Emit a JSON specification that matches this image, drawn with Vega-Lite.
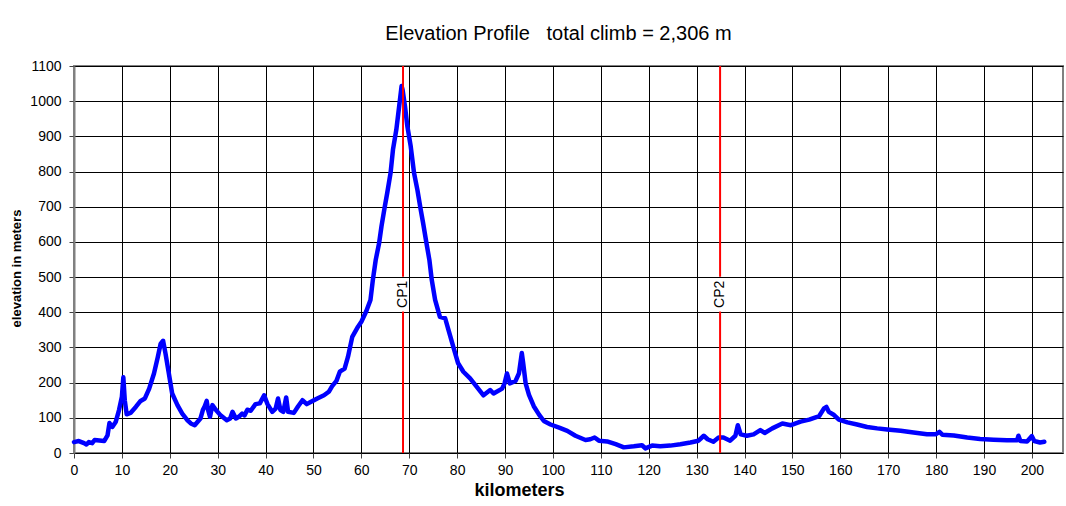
{
  "$schema": "https://vega.github.io/schema/vega-lite/v6.json",
  "width": 989,
  "height": 387,
  "autosize": {"type": "none"},
  "padding": {"left": 74, "top": 66, "right": 3, "bottom": 53},
  "background": "white",
  "config": {
    "font": "Liberation Sans",
    "view": {"stroke": "#808080", "strokeWidth": 2},
    "axis": {
      "labelFont": "Liberation Sans",
      "labelFontSize": 14,
      "labelColor": "black",
      "titleFont": "Liberation Sans",
      "titleColor": "black",
      "gridColor": "black",
      "gridWidth": 1,
      "gridOpacity": 1,
      "tickColor": "#404040",
      "tickSize": 5,
      "domainColor": "#808080",
      "domainWidth": 2
    }
  },
  "title": {
    "text": "Elevation Profile\u00a0\u00a0\u00a0total climb = 2,306 m",
    "font": "Liberation Sans",
    "fontSize": 20,
    "fontWeight": "normal",
    "color": "black",
    "anchor": "middle",
    "dx": -10,
    "offset": 15
  },
  "datasets": {
    "profile": [
      {"km": 0, "elev": 31}, {"km": 1.0, "elev": 34}, {"km": 2.1, "elev": 28}, {"km": 2.6, "elev": 24},
      {"km": 3.1, "elev": 31}, {"km": 3.8, "elev": 28}, {"km": 4.3, "elev": 37}, {"km": 6.3, "elev": 34},
      {"km": 7.0, "elev": 50}, {"km": 7.4, "elev": 85}, {"km": 8.0, "elev": 74}, {"km": 8.7, "elev": 88},
      {"km": 9.4, "elev": 122}, {"km": 10.0, "elev": 160}, {"km": 10.3, "elev": 215}, {"km": 10.6, "elev": 150},
      {"km": 11.0, "elev": 110}, {"km": 11.8, "elev": 114}, {"km": 12.9, "elev": 131}, {"km": 13.9, "elev": 148},
      {"km": 14.8, "elev": 155}, {"km": 15.7, "elev": 183}, {"km": 16.7, "elev": 226}, {"km": 17.5, "elev": 273},
      {"km": 18.1, "elev": 311}, {"km": 18.6, "elev": 319}, {"km": 19.1, "elev": 283}, {"km": 19.8, "elev": 226},
      {"km": 20.5, "elev": 169}, {"km": 21.6, "elev": 136}, {"km": 22.6, "elev": 112}, {"km": 23.7, "elev": 93},
      {"km": 24.4, "elev": 84}, {"km": 25.2, "elev": 79}, {"km": 26.4, "elev": 98}, {"km": 26.9, "elev": 122},
      {"km": 27.3, "elev": 133}, {"km": 27.7, "elev": 148}, {"km": 28.0, "elev": 122}, {"km": 28.4, "elev": 103},
      {"km": 28.9, "elev": 136}, {"km": 29.6, "elev": 123}, {"km": 30.6, "elev": 107}, {"km": 31.9, "elev": 93},
      {"km": 32.6, "elev": 98}, {"km": 33.1, "elev": 117}, {"km": 33.8, "elev": 98}, {"km": 34.4, "elev": 103},
      {"km": 35.1, "elev": 112}, {"km": 35.6, "elev": 107}, {"km": 36.2, "elev": 123}, {"km": 36.9, "elev": 120},
      {"km": 37.9, "elev": 139}, {"km": 38.8, "elev": 141}, {"km": 39.7, "elev": 164}, {"km": 40.4, "elev": 139},
      {"km": 41.4, "elev": 117}, {"km": 42.1, "elev": 126}, {"km": 42.6, "elev": 155}, {"km": 43.1, "elev": 122},
      {"km": 43.7, "elev": 117}, {"km": 44.3, "elev": 158}, {"km": 44.7, "elev": 117}, {"km": 45.9, "elev": 114},
      {"km": 46.8, "elev": 133}, {"km": 47.7, "elev": 150}, {"km": 48.6, "elev": 139}, {"km": 49.4, "elev": 145},
      {"km": 50.8, "elev": 155}, {"km": 52.2, "elev": 164}, {"km": 53.2, "elev": 174}, {"km": 53.9, "elev": 190},
      {"km": 54.8, "elev": 205}, {"km": 55.5, "elev": 231}, {"km": 56.5, "elev": 240}, {"km": 57.2, "elev": 273},
      {"km": 58.1, "elev": 330}, {"km": 59.3, "elev": 359}, {"km": 60.0, "elev": 373}, {"km": 61.0, "elev": 402},
      {"km": 61.9, "elev": 435}, {"km": 62.4, "elev": 492}, {"km": 63.0, "elev": 549}, {"km": 63.7, "elev": 596},
      {"km": 64.2, "elev": 644}, {"km": 64.9, "elev": 701}, {"km": 65.4, "elev": 739}, {"km": 66.1, "elev": 796},
      {"km": 66.6, "elev": 862}, {"km": 67.3, "elev": 919}, {"km": 67.9, "elev": 986}, {"km": 68.4, "elev": 1043},
      {"km": 68.6, "elev": 1033}, {"km": 69.1, "elev": 986}, {"km": 69.6, "elev": 929}, {"km": 70.3, "elev": 872},
      {"km": 71.0, "elev": 796}, {"km": 71.7, "elev": 748}, {"km": 72.4, "elev": 691}, {"km": 72.9, "elev": 653},
      {"km": 73.6, "elev": 596}, {"km": 74.2, "elev": 549}, {"km": 74.7, "elev": 492}, {"km": 75.4, "elev": 435},
      {"km": 76.4, "elev": 387}, {"km": 77.5, "elev": 383}, {"km": 78.2, "elev": 349}, {"km": 79.2, "elev": 302},
      {"km": 80.2, "elev": 255}, {"km": 81.3, "elev": 231}, {"km": 82.7, "elev": 212}, {"km": 84.1, "elev": 188},
      {"km": 85.5, "elev": 164}, {"km": 86.9, "elev": 179}, {"km": 87.6, "elev": 169}, {"km": 89.4, "elev": 183},
      {"km": 89.9, "elev": 198}, {"km": 90.4, "elev": 226}, {"km": 91.0, "elev": 198}, {"km": 92.2, "elev": 205},
      {"km": 92.9, "elev": 226}, {"km": 93.5, "elev": 284}, {"km": 93.8, "elev": 254}, {"km": 94.3, "elev": 198},
      {"km": 95.0, "elev": 165}, {"km": 96.0, "elev": 133}, {"km": 97.1, "elev": 109}, {"km": 98.1, "elev": 91},
      {"km": 99.5, "elev": 81}, {"km": 101.3, "elev": 72}, {"km": 103.0, "elev": 63}, {"km": 104.7, "elev": 49},
      {"km": 106.8, "elev": 37}, {"km": 107.8, "elev": 39}, {"km": 108.7, "elev": 44}, {"km": 109.6, "elev": 35},
      {"km": 111.3, "elev": 33}, {"km": 113.1, "elev": 25}, {"km": 114.8, "elev": 16}, {"km": 116.9, "elev": 19},
      {"km": 118.6, "elev": 22}, {"km": 119.3, "elev": 13}, {"km": 120.7, "elev": 21}, {"km": 122.4, "elev": 19},
      {"km": 124.5, "elev": 21}, {"km": 126.6, "elev": 25}, {"km": 128.7, "elev": 30}, {"km": 130.4, "elev": 35},
      {"km": 131.5, "elev": 49}, {"km": 132.3, "elev": 39}, {"km": 133.5, "elev": 32}, {"km": 134.6, "elev": 44},
      {"km": 135.6, "elev": 44}, {"km": 137.0, "elev": 35}, {"km": 138.1, "elev": 49}, {"km": 138.6, "elev": 79},
      {"km": 139.2, "elev": 53}, {"km": 140.5, "elev": 49}, {"km": 141.9, "elev": 53}, {"km": 143.3, "elev": 65},
      {"km": 144.2, "elev": 57}, {"km": 145.8, "elev": 70}, {"km": 147.9, "elev": 84}, {"km": 149.7, "elev": 79},
      {"km": 151.7, "elev": 89}, {"km": 153.5, "elev": 95}, {"km": 155.6, "elev": 105}, {"km": 156.6, "elev": 127},
      {"km": 157.1, "elev": 131}, {"km": 157.6, "elev": 117}, {"km": 158.7, "elev": 108}, {"km": 159.7, "elev": 95},
      {"km": 161.5, "elev": 87}, {"km": 163.5, "elev": 81}, {"km": 165.6, "elev": 74}, {"km": 167.7, "elev": 70},
      {"km": 169.8, "elev": 67}, {"km": 172.6, "elev": 63}, {"km": 175.3, "elev": 58}, {"km": 178.1, "elev": 53},
      {"km": 179.9, "elev": 53}, {"km": 180.7, "elev": 60}, {"km": 181.3, "elev": 52}, {"km": 183.7, "elev": 50},
      {"km": 186.5, "elev": 44}, {"km": 189.2, "elev": 40}, {"km": 192.0, "elev": 38}, {"km": 194.8, "elev": 36},
      {"km": 196.9, "elev": 36}, {"km": 197.2, "elev": 49}, {"km": 197.6, "elev": 34}, {"km": 199.0, "elev": 33},
      {"km": 200.0, "elev": 48}, {"km": 200.5, "elev": 34}, {"km": 201.7, "elev": 30}, {"km": 202.6, "elev": 32}
    ],
    "cpRules": [
      {"cp": "CP1", "km": 68.7, "elev": 0, "elev2": 402},
      {"cp": "CP1", "km": 68.7, "elev": 501, "elev2": 1100},
      {"cp": "CP2", "km": 134.9, "elev": 0, "elev2": 402},
      {"cp": "CP2", "km": 134.9, "elev": 501, "elev2": 1100}
    ],
    "cpLabels": [
      {"cp": "CP1", "km": 68.7, "elev": 451},
      {"cp": "CP2", "km": 134.9, "elev": 451}
    ]
  },
  "encoding": {
    "x": {
      "field": "km", "type": "quantitative",
      "scale": {"domain": [0, 206.5], "nice": false, "zero": false},
      "axis": {
        "values": [0, 10, 20, 30, 40, 50, 60, 70, 80, 90, 100, 110, 120, 130, 140, 150, 160, 170, 180, 190, 200],
        "format": "d",
        "labelOverlap": false,
        "title": "kilometers",
        "titleFontSize": 18,
        "titleFontWeight": "bold",
        "titlePadding": 4,
        "titleX": 445,
        "labelPadding": 5,
        "labelFlush": false,
        "domain": false,
        "grid": true
      }
    },
    "y": {
      "field": "elev", "type": "quantitative",
      "scale": {"domain": [0, 1100], "nice": false},
      "axis": {
        "values": [0, 100, 200, 300, 400, 500, 600, 700, 800, 900, 1000, 1100],
        "format": "d",
        "labelOverlap": false,
        "labelFlush": false,
        "title": "elevation in meters",
        "titleFontSize": 13,
        "titleFontWeight": "bold",
        "titlePadding": 6,
        "titleY": 202,
        "labelPadding": 8,
        "grid": true
      }
    }
  },
  "layer": [
    {
      "data": {"name": "profile"},
      "mark": {"type": "line", "color": "#0000FF", "strokeWidth": 4.5, "strokeJoin": "round", "strokeCap": "round"}
    },
    {
      "data": {"name": "cpRules"},
      "mark": {"type": "rule", "color": "#FF0000", "strokeWidth": 2},
      "encoding": {
        "y2": {"field": "elev2"}
      }
    },
    {
      "data": {"name": "cpLabels"},
      "mark": {"type": "text", "angle": 270, "font": "Liberation Sans", "fontSize": 14, "color": "black", "align": "center", "baseline": "middle"},
      "encoding": {
        "text": {"field": "cp"}
      }
    }
  ]
}
